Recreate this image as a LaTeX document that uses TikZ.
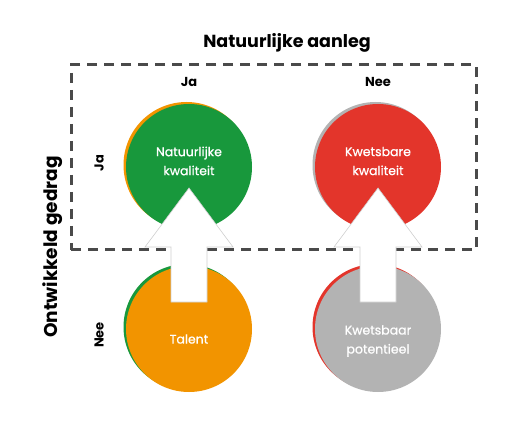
\documentclass[tikz,border=0pt]{standalone}
\usepackage{fontspec}
\setmainfont{Poppins}
\newfontfamily\cellfont[FakeBold=0.8]{Poppins}
\usetikzlibrary{positioning,calc,shadows}
\definecolor{NAGreen}{HTML}{18983C}
\definecolor{NAOrange}{HTML}{F29400}
\definecolor{NARed}{HTML}{E3352B}
\definecolor{NAGrey}{HTML}{B3B3B3}
\definecolor{NADash}{HTML}{4A4A4A}
\definecolor{NAEdge}{HTML}{CFCFCF}
\tikzset{
  cell/.style={circle,minimum size=126pt,inner sep=0pt},
  rim/.style={general shadow={fill=#1,shadow xshift=-2.5pt,shadow yshift=2pt}},
  celltext/.style={text=white,font=\cellfont\fontsize{12.5}{19}\selectfont,align=center},
  axislabel/.style={text=black,font=\fontsize{13}{15}\selectfont\bfseries},
  headlabel/.style={text=black,font=\fontsize{17.5}{20}\selectfont\bfseries},
  frame/.style={draw=NADash,line width=3pt,dash pattern=on 10pt off 7pt},
  lift/.style={fill=white,draw=NAEdge,line width=0.6pt,line join=miter},
}

\begin{document}
\begin{tikzpicture}[x=1pt,y=-1pt]
    \useasboundingbox (0,0) rectangle (520,441);

    % the four fields
    \node[cell,fill=NAGreen,rim=NAOrange] (natq) at (189,167) {};
    \node[cell,fill=NARed,rim=NAGrey] (kwetq) at (378,167) {};
    \node[cell,fill=NAOrange,rim=NAGreen] (talent) at (189,329) {};
    \node[cell,fill=NAGrey,rim=NARed] (kwetp) at (378,329) {};

    \node[frame,minimum width=405pt,minimum height=185pt] (jazone) at (273.5,157.5) {};

    % growth arrows
    \foreach \lo/\hi in {talent/natq,kwetp/kwetq}
      \draw[lift] ($(\lo.center)+(-18,-27)$) |- ($(\hi.center)+(-44,80)$)
        -- ($(\hi.center)+(0,21)$) -- ($(\hi.center)+(44,80)$)
        -| ($(\lo.center)+(18,-27)$) -- cycle;

    \node[celltext] at ($(natq.center)+(0,-6)$) {Natuurlijke\\kwaliteit};
    \node[celltext] at ($(kwetq.center)+(0,-6)$) {Kwetsbare\\kwaliteit};
    \node[celltext] at ($(talent.center)+(0,10)$) {Talent};
    \node[celltext] at ($(kwetp.center)+(0,12)$) {Kwetsbaar\\potentieel};

    % axes
    \node[headlabel] (aanleg) at (287,43) {Natuurlijke aanleg};
    \node[axislabel] (colja) at (189,82) {Ja};
    \node[axislabel] (colnee) at (378,82) {Nee};
    \node[headlabel,font=\fontsize{18.5}{21}\selectfont\bfseries,rotate=90] (gedrag) at (53,247) {Ontwikkeld gedrag};
    \node[axislabel,rotate=90] (rowja) at (99,163) {Ja};
    \node[axislabel,rotate=90] (rownee) at (99,335) {Nee};
\end{tikzpicture}
\end{document}
